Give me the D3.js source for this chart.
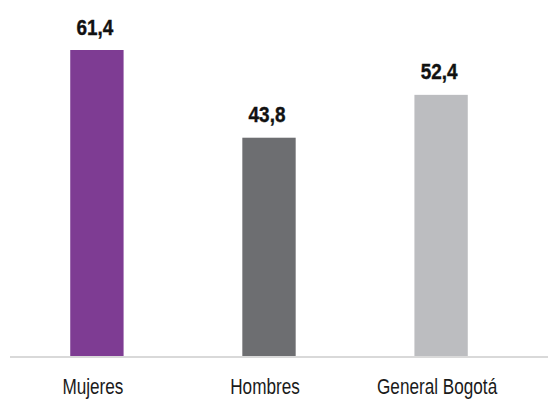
<!DOCTYPE html>
<html>
<head>
<meta charset="utf-8">
<script src="https://cdn.jsdelivr.net/npm/d3@7"></script>
<style>
  body { margin: 0; background: #fff; }
  text { font-family: "Liberation Sans", Arial, sans-serif; }
</style>
</head>
<body>
<div id="chart-area"></div>
<script>
// data
let categories = ["Mujeres", "Hombres", "General Bogotá"];
let values = [61.4, 43.8, 52.4];
let labels = ["61,4", "43,8", "52,4"];
let colours = ["#7E3C93", "#6D6E71", "#BCBDC0"];

let width = 548, height = 400;
let baseY = 356;

let svg = d3.select("#chart-area").append("svg")
    .attr("width", width)
    .attr("height", height);

// scales
let x = d3.scaleBand()
    .domain(categories)
    .range([10, 528])
    .paddingInner(0.69)
    .paddingOuter(0.35);

let y = d3.scaleLinear()
    .domain([0, 61.4])
    .range([baseY, 50]);

// bars
svg.selectAll(".bar")
    .data(values)
    .enter().append("rect")
    .attr("class", "bar")
    .attr("x", (d, i) => x(categories[i]))
    .attr("y", d => y(d))
    .attr("width", x.bandwidth())
    .attr("height", d => baseY - y(d))
    .attr("fill", (d, i) => colours[i]);

// value labels (squeezed horizontally to mimic a condensed face)
svg.selectAll(".val")
    .data(values)
    .enter().append("text")
    .attr("class", "val")
    .attr("transform", (d, i) => "translate(" + (x(categories[i]) + x.bandwidth() / 2 - 2) + "," + (y(d) - 15.5) + ") scale(0.86,1)")
    .attr("text-anchor", "middle")
    .style("font-weight", "bold")
    .style("font-size", "22px")
    .attr("fill", "#111")
    .attr("stroke", "#111")
    .attr("stroke-width", 0.4)
    .text((d, i) => labels[i]);

// axis line
svg.append("line")
    .attr("x1", 10).attr("x2", 548)
    .attr("y1", baseY + 1).attr("y2", baseY + 1)
    .attr("stroke", "#d9d9d9")
    .attr("stroke-width", 2);

// category labels
let xAxis = d3.axisBottom(x).tickSize(0).tickPadding(0);
let gx = svg.append("g")
    .attr("transform", "translate(0," + baseY + ")")
    .call(xAxis);
gx.select(".domain").remove();
gx.selectAll("text")
    .attr("dy", null)
    .attr("y", 0)
    .attr("transform", "translate(0,38) scale(0.78,1)")
    .style("font-size", "22px")
    .attr("fill", "#1a1a1a");
// keep the ticks centred after scaling (labels sit a touch left of the bars)
gx.selectAll(".tick")
    .attr("transform", d => "translate(" + (x(d) + x.bandwidth() / 2 - 4) + ",0)");
</script>
</body>
</html>
